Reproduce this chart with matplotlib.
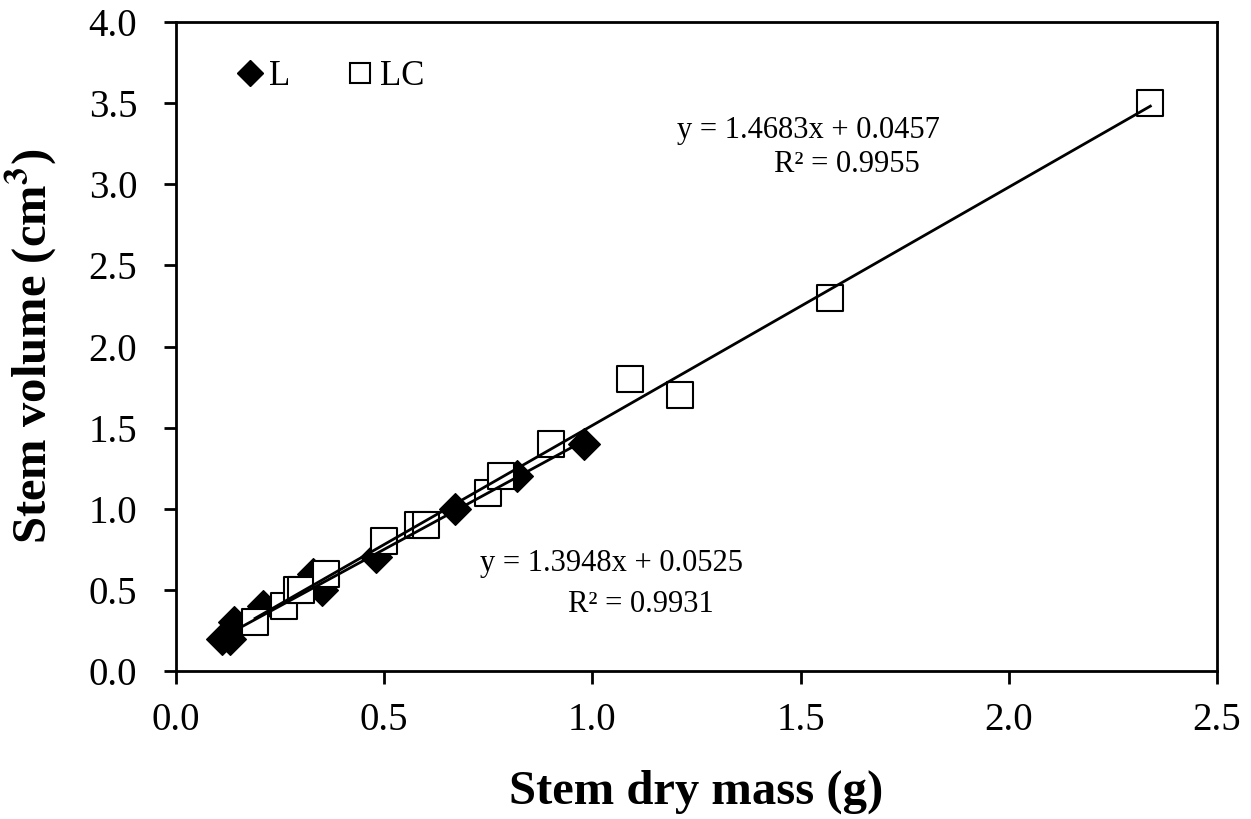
import matplotlib
matplotlib.use("Agg")
import matplotlib.pyplot as plt
from matplotlib.lines import Line2D
import numpy as np

plt.rcParams['font.family'] = ['Liberation Serif', 'DejaVu Serif']
plt.rcParams['mathtext.fontset'] = 'stix'

# L (diamonds)
l_mass = [0.11, 0.13, 0.14, 0.21, 0.33, 0.35, 0.48, 0.67, 0.82, 0.98]
l_volume = [0.2, 0.2, 0.3, 0.4, 0.6, 0.5, 0.7, 1.0, 1.2, 1.4]

# LC (open squares)
lc_mass = [0.19, 0.26, 0.29, 0.30, 0.36, 0.50, 0.58, 0.60, 0.75, 0.78,
           0.90, 1.09, 1.21, 1.57, 2.34]
lc_volume = [0.3, 0.4, 0.5, 0.5, 0.6, 0.8, 0.9, 0.9, 1.1, 1.2,
             1.4, 1.8, 1.7, 2.3, 3.5]

# trendline coefficients as printed on the chart
l_fit = (1.3948, 0.0525, 0.9931)
lc_fit = (1.4683, 0.0457, 0.9955)

fig = plt.figure(figsize=(12.51, 8.19), dpi=100)
ax = fig.add_axes([0.1407, 0.1807, 0.8321, 0.7924])

ax.scatter(l_mass, l_volume, marker='D', s=260, color='black', zorder=3)
ax.scatter(lc_mass, lc_volume, marker='s', s=330, facecolor='white',
           edgecolor='black', linewidths=1.5, zorder=3)

# trendlines
for xs, (a, b, r2) in [(l_mass, l_fit), (lc_mass, lc_fit)]:
    xx = np.array([min(xs), max(xs)])
    ax.plot(xx, a * xx + b, color='black', lw=2, zorder=4)

# equation labels
ax.text(1.52, 3.33, 'y = %.4fx + %.4f' % lc_fit[:2], ha='center', va='center', fontsize=22)
ax.text(1.61, 3.12, 'R² = %.4f' % lc_fit[2], ha='center', va='center', fontsize=22)
ax.text(1.045, 0.665, 'y = %.4fx + %.4f' % l_fit[:2], ha='center', va='center', fontsize=22)
ax.text(1.117, 0.41, 'R² = %.4f' % l_fit[2], ha='center', va='center', fontsize=22)

ax.set_xlim(0, 2.5)
ax.set_ylim(0, 4.0)
ax.set_xticks(np.arange(0, 2.51, 0.5))
ax.set_yticks(np.arange(0, 4.01, 0.5))
ax.xaxis.set_major_formatter(matplotlib.ticker.FormatStrFormatter('%.1f'))
ax.yaxis.set_major_formatter(matplotlib.ticker.FormatStrFormatter('%.1f'))
ax.tick_params(direction='out', length=9, width=2, labelsize=28)
ax.tick_params(axis='x', pad=13)
ax.tick_params(axis='y', pad=19)
for sp in ax.spines.values():
    sp.set_linewidth(2)

ax.set_xlabel('Stem dry mass (g)', fontsize=35, fontweight='bold', labelpad=22)
ax.set_ylabel('Stem volume (cm$^\\mathbf{3}$)', fontsize=35, fontweight='bold', labelpad=21)

handles = [Line2D([], [], ls='none', marker='D', ms=13, color='black'),
           Line2D([], [], ls='none', marker='s', ms=15, mfc='white', mec='black', mew=1.5)]
ax.legend(handles, ['L', 'LC'], loc='upper left', bbox_to_anchor=(0.026, 0.99), ncol=2,
          frameon=False, fontsize=25, handlelength=0.9, handletextpad=0.1,
          columnspacing=1.57)

fig.savefig('out.png', dpi=100)
